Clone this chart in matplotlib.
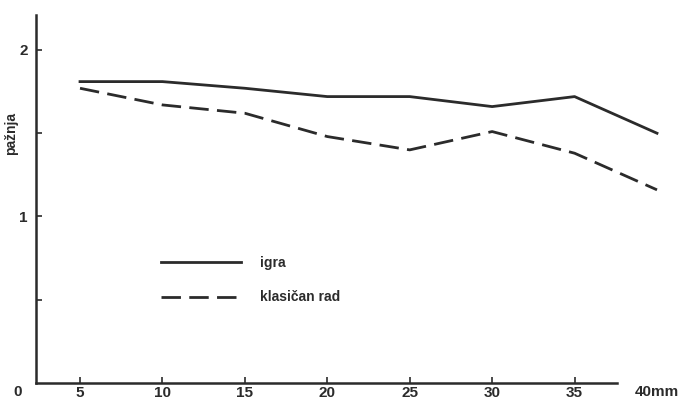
import matplotlib.pyplot as plt
import numpy as np

plt.close('all')

minutes = [5, 10, 15, 20, 25, 30, 35, 40]
igra = [1.81, 1.81, 1.77, 1.72, 1.72, 1.66, 1.72, 1.50]
klasican = [1.77, 1.67, 1.62, 1.48, 1.40, 1.51, 1.38, 1.16]

xticks = [5, 10, 15, 20, 25, 30, 35]
yticks = [0.5, 1, 1.5, 2]
ylabels = ['', '1', '', '2']

ink = '#2b2b2b'
plt.rcParams['font.family'] = ['Liberation Sans', 'DejaVu Sans']
plt.rcParams['font.weight'] = 'bold'

fig = plt.figure(figsize=(6.99, 4.03), dpi=100)
ax = fig.add_axes([36 / 699, 20 / 403, 621 / 699, 368 / 403])

ax.plot(minutes, igra, color=ink, lw=2.0, label='igra', clip_on=False)
ax.plot(minutes, klasican, color=ink, lw=2.0, dashes=(7, 3), label='klasičan rad', clip_on=False)

ax.set_xlim(2.33, 40)
ax.set_ylim(0, 2.21)

# axes like the hand drawn original: only left and bottom lines
for s in ['top', 'right']:
    ax.spines[s].set_visible(False)
for s in ['left', 'bottom']:
    ax.spines[s].set_linewidth(1.8)
    ax.spines[s].set_color(ink)
ax.spines['bottom'].set_bounds(2.33, 37.6)

ax.set_xticks(xticks)
ax.set_xticklabels([str(t) for t in xticks])
ax.set_yticks(yticks)
ax.set_yticklabels(ylabels)
ax.tick_params(direction='in', length=4, width=1.2, color=ink,
               labelsize=11, labelcolor=ink)
ax.tick_params(axis='x', pad=2)
ax.tick_params(axis='y', pad=6)

ax.text(40, -0.012, '40mm', ha='center', va='top', fontsize=11,
        color=ink, clip_on=False)
ax.text(1.24, -0.012, '0', ha='center', va='top', fontsize=11,
        color=ink, clip_on=False)

ax.set_ylabel('pažnja', fontsize=10, fontweight='bold', color=ink)
ax.yaxis.set_label_coords(-0.029, 1.5 / 2.21)

ax.legend(loc='upper left', bbox_to_anchor=(0.19, 0.365), frameon=False,
          handlelength=5.8, handletextpad=1.3, labelspacing=1.5,
          borderpad=0, fontsize=10, labelcolor=ink)

fig.savefig('out.png', dpi=100)
